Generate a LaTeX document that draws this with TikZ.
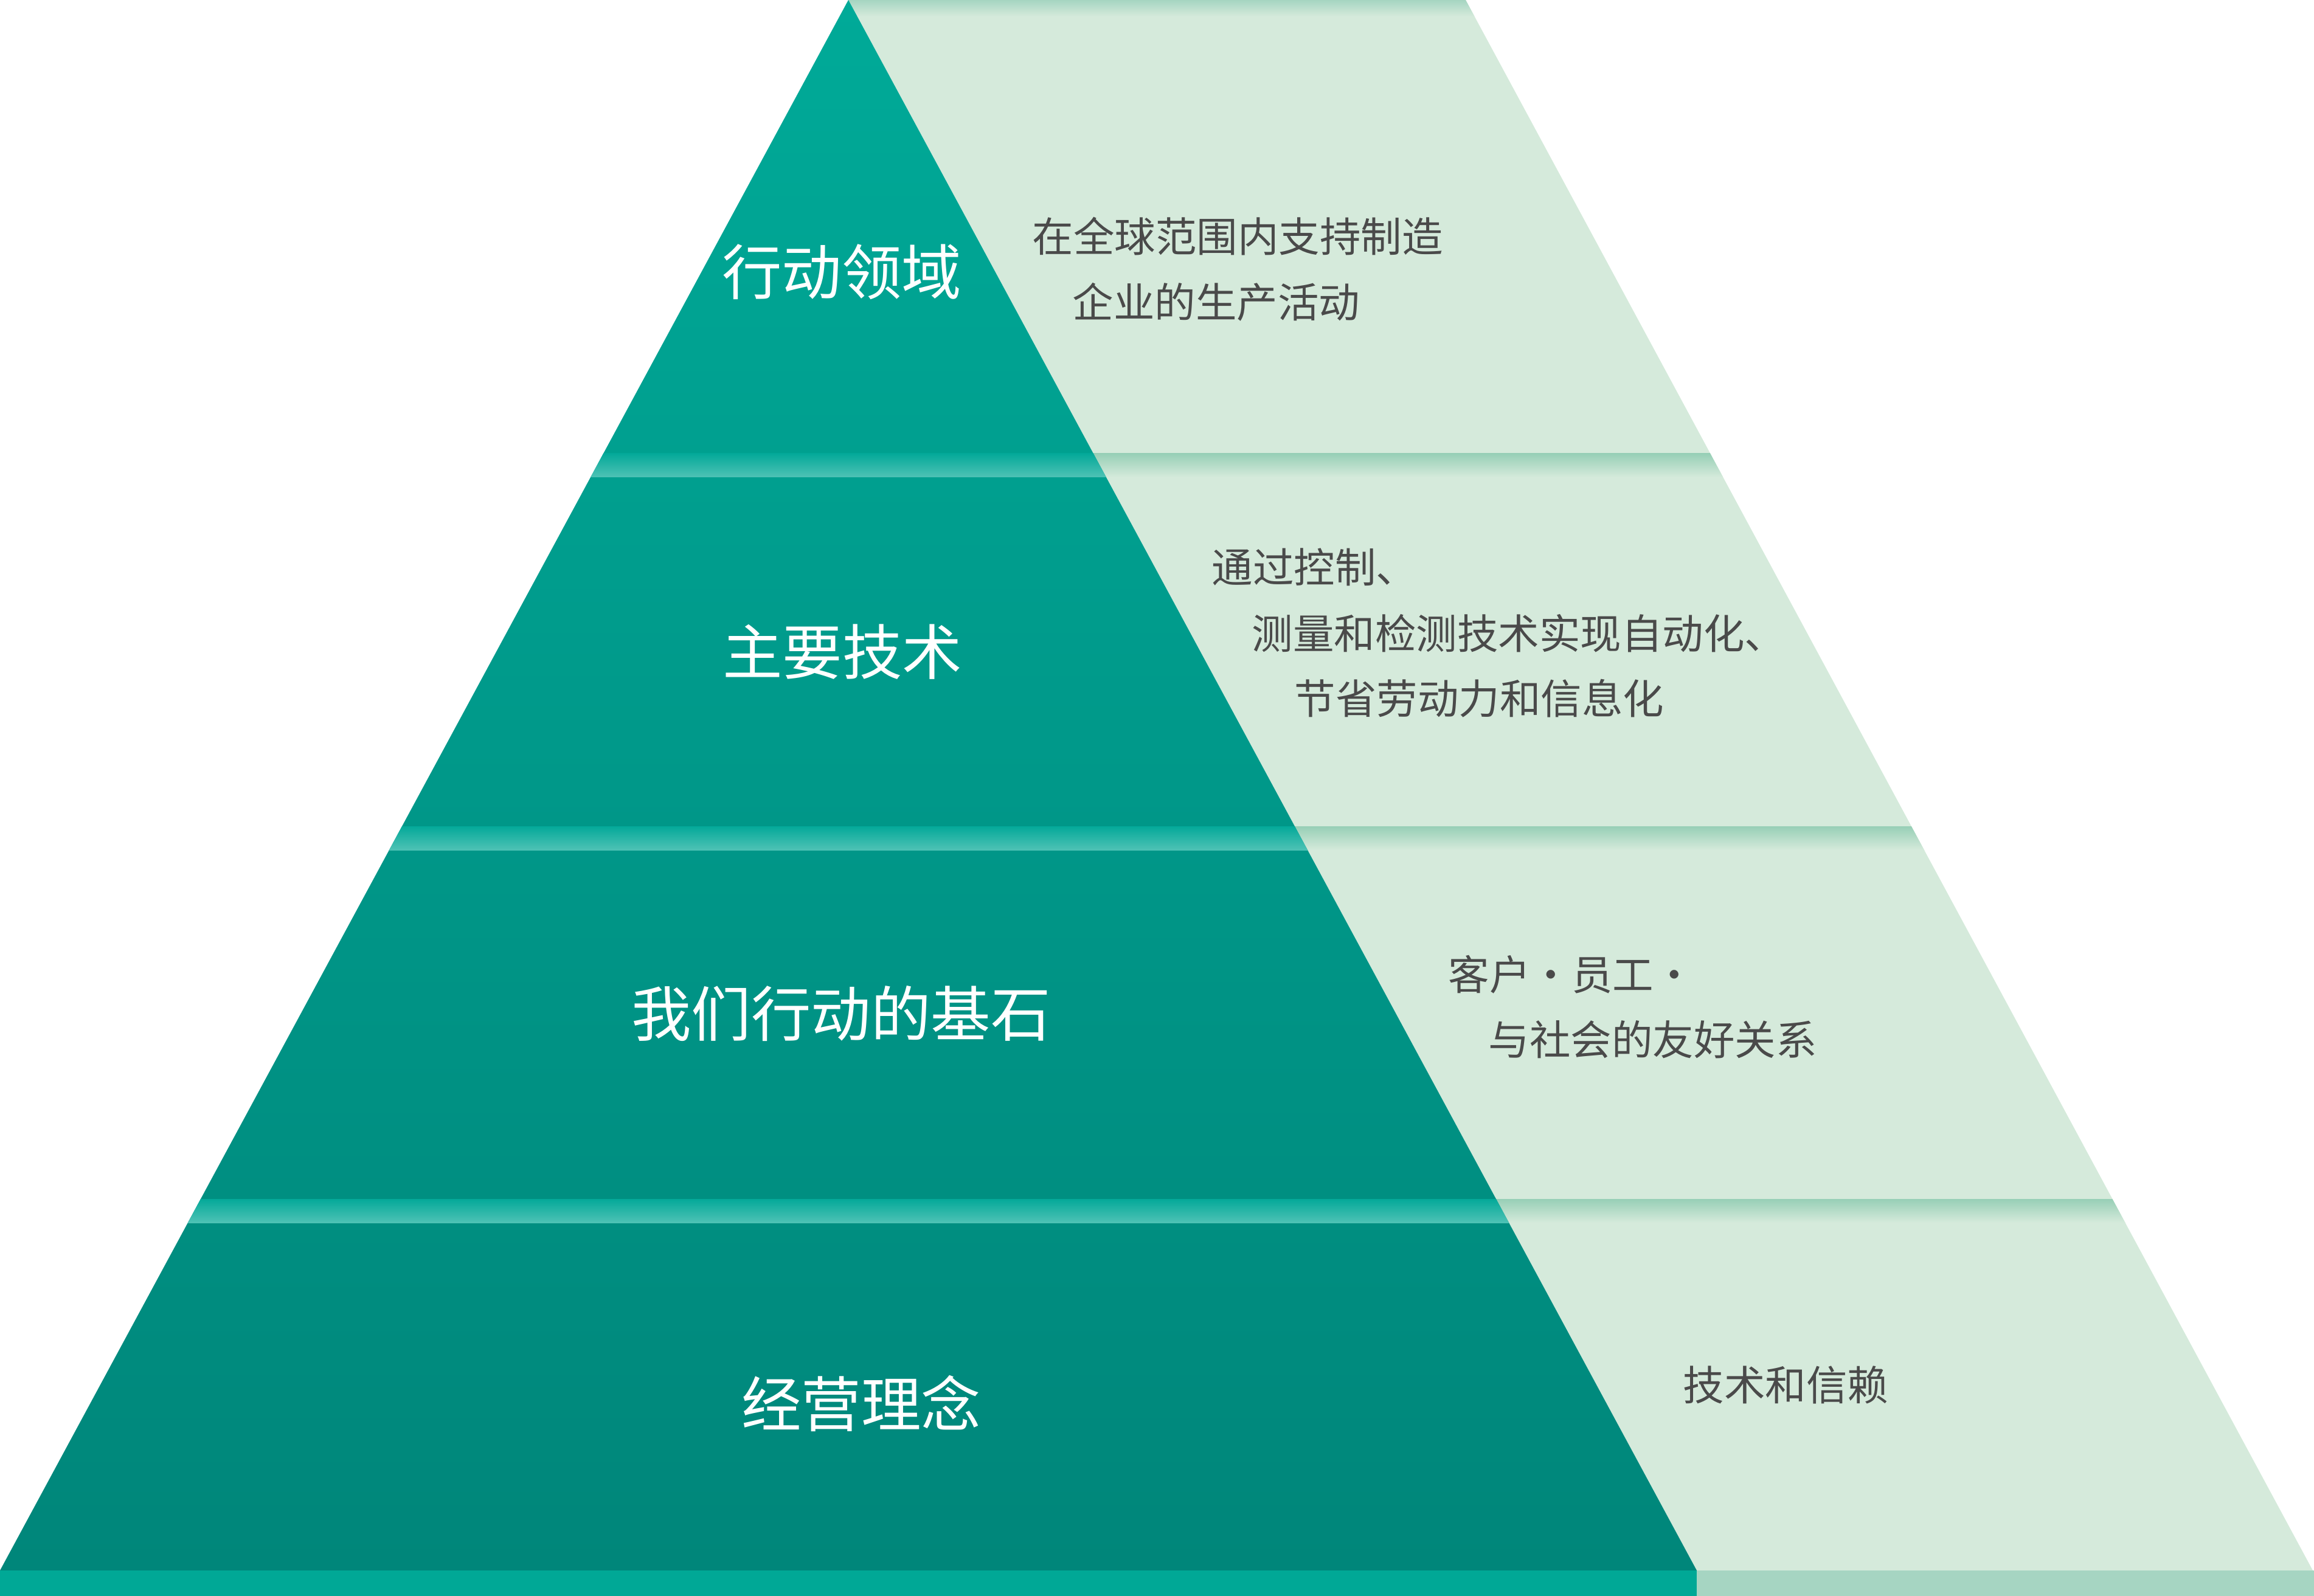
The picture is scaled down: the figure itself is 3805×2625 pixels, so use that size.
\documentclass[tikz,border=0pt]{standalone}
\usepackage{fontspec}
\newfontfamily\cjk{Noto Sans CJK SC}
\definecolor{tealtop}{HTML}{00AA98}
\definecolor{tealbot}{HTML}{00867A}
\definecolor{lightg}{HTML}{D5EADB}
\definecolor{bandg}{HTML}{97CFB6}
\definecolor{topband}{HTML}{A5D5C1}
\definecolor{bandta}{HTML}{04A999}
\definecolor{bandtb}{HTML}{4EC2B5}
\definecolor{stripteal}{HTML}{00A896}
\definecolor{striplight}{HTML}{A6D5C2}
\definecolor{txtgray}{HTML}{4A4A4A}
\tikzset{
  lefttxt/.style={inner sep=0pt, text=white, font=\cjk\fontsize{28}{32}\selectfont},
  righttxt/.style={inner sep=0pt, anchor=west, text=txtgray, font=\cjk\fontsize{19.2}{23}\selectfont}
}
\begin{document}
\begin{tikzpicture}[x=0.01cm,y=-0.01cm]
\useasboundingbox (0,0) rectangle (3805,2625);
% light parallelogram
\fill[lightg] (1395,0) -- (2410,0) -- (3803,2583) -- (2790,2583) -- cycle;
\begin{scope}
  \clip (1395,0) -- (2410,0) -- (3803,2583) -- (2790,2583) -- cycle;
  \shade[top color=topband, bottom color=lightg] (1300,0) rectangle (3805,27);
  \foreach \yy in {746,1359,1972}
    \shade[top color=bandg, bottom color=lightg] (1300,\yy) rectangle (3805,\yy+39);
\end{scope}
% teal triangle
\shade[top color=tealtop, bottom color=tealbot] (0,2583) -- (1395,0) -- (2790,2583) -- cycle;
\begin{scope}
  \clip (0,2583) -- (1395,0) -- (2790,2583) -- cycle;
  \foreach \yy in {746,1359,1972}
    \shade[top color=bandta, bottom color=bandtb] (0,\yy) rectangle (2790,\yy+39);
\end{scope}
% bottom strip
\fill[stripteal] (0,2583) rectangle (2790,2625);
\fill[striplight] (2790,2583) rectangle (3805,2625);
% left labels
\node[lefttxt] (l1) at (1384,447) {行动领域};
\node[lefttxt] (l2) at (1385,1072) {主要技术};
\node[lefttxt] (l3) at (1383,1667) {我们行动的基石};
\node[lefttxt] (l4) at (1416,2308) {经营理念};
% right texts
\node[righttxt] (r1a) at (1697,389) {在全球范围内支持制造};
\node[righttxt] (r1b) at (1763,497) {企业的生产活动};
\node[righttxt] (r2a) at (1992,933) {通过控制、};
\node[righttxt] (r2b) at (2058,1042) {测量和检测技术实现自动化、};
\node[righttxt] (r2c) at (2128,1149) {节省劳动力和信息化};
\node[righttxt] (r3a) at (2381,1603) {客户・员工・};
\node[righttxt] (r3b) at (2447,1710) {与社会的友好关系};
\node[righttxt] (r4) at (2767,2278) {技术和信赖};
\end{tikzpicture}
\end{document}
